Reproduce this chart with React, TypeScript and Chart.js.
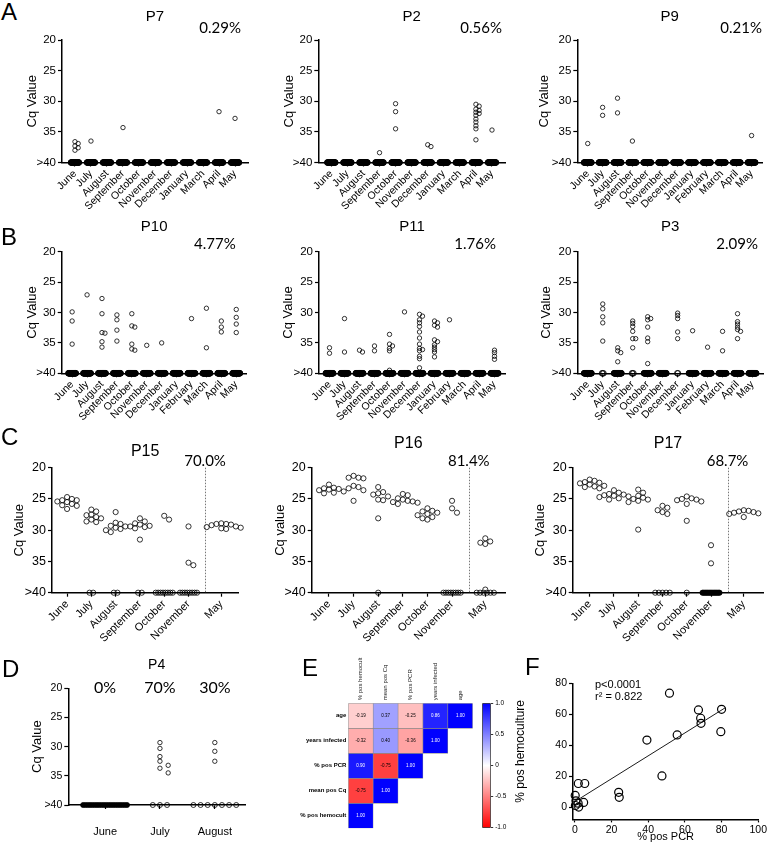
import React, { useEffect, useRef } from 'react';
import { Chart, registerables } from 'chart.js';

Chart.register(...registerables);

const FONT = '"Liberation Sans", Arial, Helvetica, sans-serif';
const PCT_FONT = 'Lato, "Liberation Sans", Arial, sans-serif';
Chart.defaults.font.family = FONT;
Chart.defaults.color = '#000';

/* ------------------------------------------------------------------ */
/* Categories                                                          */
/* ------------------------------------------------------------------ */
const months11 = ['June', 'July', 'August', 'September', 'October', 'November', 'December', 'January', 'March', 'April', 'May'];
const months12 = ['June', 'July', 'August', 'September', 'October', 'November', 'December', 'January', 'February', 'March', 'April', 'May'];
const monthsC = ['June', 'July', 'August', 'September', 'October', 'November', 'May'];
const monthsD = ['June', 'July', 'August'];

const NEG_LEVEL = 40; // ">40" (negative) level
const cqTicks = [20, 25, 30, 35, 40];

/* ------------------------------------------------------------------ */
/* Panel A                                                             */
/* ------------------------------------------------------------------ */
const p7Positive = [[36.6, 36.9, 37.3, 37.6, 38.0], [36.5], [], [34.3], [], [], [], [], [], [31.7], [32.8]];
const p7Negative = [30, 30, 30, 30, 30, 30, 30, 30, 30, 30, 30];
const p2Positive = [[], [], [], [38.4], [30.4, 31.7, 34.5], [], [37.1, 37.4], [], [], [30.5, 30.8, 31.3, 31.5, 31.8, 32.0, 32.3, 32.9, 33.4, 34.0, 34.5, 36.3], [34.7]];
const p2Negative = [30, 30, 30, 30, 30, 30, 30, 30, 30, 30, 30];
const p9Positive = [[36.9], [31.0, 32.3], [29.5, 31.9], [36.5], [], [], [], [], [], [], [], [35.6]];
const p9Negative = [30, 30, 30, 30, 30, 30, 30, 30, 30, 30, 30, 30];

/* ------------------------------------------------------------------ */
/* Panel B                                                             */
/* ------------------------------------------------------------------ */
const p10Positive = [[29.9, 31.4, 35.2], [27.1], [27.7, 30.2, 33.3, 33.4, 34.8, 35.7], [30.4, 31.2, 32.9, 34.7], [30.2, 32.2, 32.4, 35.2, 36.0, 36.2], [35.4], [35.0], [], [31.0], [29.3, 35.8], [31.4, 32.4, 33.2], [29.5, 30.8, 31.9, 33.3]];
const p10Negative = [30, 30, 30, 30, 30, 30, 30, 30, 30, 30, 30, 30];
const p11Positive = [[35.8, 36.7], [31.0, 36.5], [36.2, 36.5], [35.5, 36.3], [33.6, 35.2, 35.5, 35.9, 36.3, 39.5], [29.9], [30.3, 30.6, 31.2, 31.7, 32.3, 33.2, 34.2, 35.2, 35.9, 36.1, 36.3, 37.2, 37.6, 39.1], [31.4, 31.7, 32.1, 32.4, 34.5, 34.8, 35.3, 35.7, 36.1, 36.5, 37.3], [31.2], [], [], [36.2, 36.6, 37.2, 37.7]];
const p11Negative = [30, 30, 30, 30, 30, 30, 30, 30, 30, 30, 30, 30];
const p3Positive = [[], [28.6, 29.4, 30.7, 31.7, 34.7], [35.8, 36.3, 36.6, 38.1], [31.4, 31.8, 32.3, 33.1, 34.3, 34.3, 35.8], [30.7, 31.0, 31.2, 32.4, 34.2, 34.8, 38.4], [], [30.1, 30.5, 31.0, 33.2, 34.3], [33.0], [35.7], [33.1, 36.3], [30.2, 31.5, 31.9, 32.4, 32.8, 33.1, 34.3], []];
const p3Negative = [30, 3, 30, 3, 30, 30, 2, 30, 30, 30, 30, 30];

/* ------------------------------------------------------------------ */
/* Panel C                                                             */
/* ------------------------------------------------------------------ */
const p15Positive = [[24.7, 25.0, 25.2, 25.2, 25.4, 25.5, 25.8, 26.0, 26.1, 26.6], [26.7, 27.0, 27.5, 27.6, 27.9, 28.1, 28.3, 28.6, 28.7], [27.1, 28.8, 29.0, 29.3, 29.4, 29.6, 29.8, 30.0, 30.3], [28.1, 28.6, 28.9, 29.1, 29.3, 29.4, 29.5, 29.7, 31.5], [27.7, 28.3], [29.4, 35.2, 35.6], [28.9, 29.0, 29.0, 29.1, 29.2, 29.4, 29.5, 29.6, 29.7, 29.8]];
const p15Negative = [0, 2, 2, 2, 8, 8, 0];
const p16Positive = [[22.7, 23.2, 23.3, 23.4, 23.5, 23.6, 23.8, 24.0, 24.1], [21.3, 21.6, 21.6, 21.7, 22.9, 23.1, 23.3, 23.6, 25.3], [23.1, 23.9, 24.1, 24.3, 24.6, 25.1, 25.2, 28.1], [24.2, 24.4, 24.9, 25.1, 25.3, 25.4, 25.5, 25.6, 25.8], [26.5, 26.9, 27.0, 27.2, 27.4, 27.6, 27.9, 28.1, 28.3], [25.3, 26.5, 27.2], [31.3, 31.8, 32.0, 32.2, 39.5]];
const p16Negative = [0, 0, 1, 0, 0, 8, 6];
const p17Positive = [[21.9, 22.1, 22.3, 22.4, 22.5, 22.7, 22.9, 23.0, 23.1, 23.3], [23.6, 24.0, 24.2, 24.3, 24.4, 24.5, 24.6, 24.7, 24.9, 25.1], [23.5, 24.0, 24.5, 24.8, 25.0, 25.1, 25.3, 25.5, 29.9], [26.1, 26.4, 26.8, 27.1, 27.4], [24.6, 24.9, 25.0, 25.1, 25.2, 25.4, 25.8, 28.5], [32.4, 35.3], [26.8, 26.9, 27.0, 27.1, 27.2, 27.3, 27.4, 27.9]];
const p17Negative = [0, 0, 0, 5, 1, 14, 0];

/* ------------------------------------------------------------------ */
/* Panel D                                                             */
/* ------------------------------------------------------------------ */
const p4Positive = [[], [29.3, 30.3, 31.7, 32.5, 33.2, 33.7, 34.5], [29.3, 30.8, 32.5]];
const p4Negative = [20, 3, 7];
const p4Percent = ['0%', '70%', '30%'];

/* ------------------------------------------------------------------ */
/* Panel E : correlation matrix                                        */
/* ------------------------------------------------------------------ */
const corrCols = ['% pos hemocult', 'mean pos Cq', '% pos PCR', 'years infected', 'age'];
const corrRows = ['age', 'years infected', '% pos PCR', 'mean pos Cq', '% pos hemocult']; // top to bottom
const corrAge = [-0.19, 0.37, -0.25, 0.86, 1.0];
const corrYears = [-0.32, 0.4, -0.36, 1.0];
const corrPCR = [0.9, -0.75, 1.0];
const corrCq = [-0.75, 1.0];
const corrHemo = [1.0];
const corrMatrix = [corrAge, corrYears, corrPCR, corrCq, corrHemo];
const colorbarTicks = [-1, -0.5, 0, 0.5, 1];

/* ------------------------------------------------------------------ */
/* Panel F : regression                                                */
/* ------------------------------------------------------------------ */
const pcrPercent = [51.6, 67.4, 68.6, 68.8, 80.0, 79.6, 55.8, 39.3, 47.5, 1.9, 5.4, 23.9, 24.2, 0.3, 0.6, 1.8, 2.1, 4.8, 0.2];
const hemoPercent = [73.6, 62.8, 57.4, 54.1, 63.2, 48.7, 46.6, 43.3, 20.1, 15.2, 15.2, 9.5, 6.3, 1.0, 4.0, 2.5, 0.0, 3.0, 7.5];
const fitSlope = 0.74;
const fitIntercept = 3.5;
const fitXRange = [0, 82];
const fitLabels = ['p<0.0001', 'r\u00B2 = 0.822'];
const fTicksX = [0, 20, 40, 60, 80, 100];
const fTicksY = [0, 20, 40, 60, 80];

/* ------------------------------------------------------------------ */
/* Layout / style (positions only)                                     */
/* ------------------------------------------------------------------ */
interface RowStyle {
  chartTop: number; chartBottom: number; titleSize: number; pctY: number; pctSize: number;
  tickSize: number; xTickSize: number; xAxisH: number; rotation: number; xPad: number;
  r: number; negR: number; jitter: number; yTol: number; negGap: number; negCap: number;
  xPos?: number[]; divider?: number;
}
const rowA: RowStyle = { chartTop: 40, chartBottom: 162.5, titleSize: 15, pctY: 28, pctSize: 15, tickSize: 11.5, xTickSize: 10.5, xAxisH: 56, rotation: 45, xPad: 1, r: 2.2, negR: 2.8, jitter: 0.2, yTol: 0.35, negGap: 0.05, negCap: 0.25 };
const rowB: RowStyle = { ...rowA, chartTop: 251.7, chartBottom: 373.3, pctY: 244.3 };
const rowC: RowStyle = { chartTop: 467.7, chartBottom: 592.7, titleSize: 16, pctY: 461.5, pctSize: 15, tickSize: 12.5, xTickSize: 11, xAxisH: 52, rotation: 45, xPad: 1, r: 2.6, negR: 2.6, jitter: 0.2, yTol: 0.8, negGap: 0.15, negCap: 0.35, xPos: [0, 1, 2, 3, 4, 5, 6.35], divider: 5.68 };
const rowD: RowStyle = { chartTop: 688.3, chartBottom: 805, titleSize: 14, pctY: 688.3, pctSize: 16, tickSize: 10.5, xTickSize: 11, xAxisH: 39, rotation: 0, xPad: 16, r: 2.2, negR: 2.5, jitter: 0.15, yTol: 0.8, negGap: 0.13, negCap: 0.4 };

interface PanelLayout { row: RowStyle; axisX: number; axisRight: number; xMin: number; xMax: number; titleY: number; yTitleOffset: number; pctDx?: number; }
interface CqPanel { title: string; pct: string[]; yTitle: string; months: string[]; positives: number[][]; negatives: number[]; layout: PanelLayout; }

const cqPanels: CqPanel[] = [
  { title: 'P7', pct: ['0.29%'], yTitle: 'Cq Value', months: months11, positives: p7Positive, negatives: p7Negative,
    layout: { row: rowA, axisX: 62, axisRight: 248, xMin: -0.81, xMax: 10.81, titleY: 17, yTitleOffset: 29, pctDx: -7 } },
  { title: 'P2', pct: ['0.56%'], yTitle: 'Cq Value', months: months11, positives: p2Positive, negatives: p2Negative,
    layout: { row: rowA, axisX: 318.3, axisRight: 505, xMin: -0.81, xMax: 10.81, titleY: 17, yTitleOffset: 29, pctDx: -3 } },
  { title: 'P9', pct: ['0.21%'], yTitle: 'Cq Value', months: months12, positives: p9Positive, negatives: p9Negative,
    layout: { row: rowA, axisX: 577.3, axisRight: 762, xMin: -0.7, xMax: 11.7, titleY: 17, yTitleOffset: 33, pctDx: 0 } },
  { title: 'P10', pct: ['4.77%'], yTitle: 'Cq Value', months: months12, positives: p10Positive, negatives: p10Negative,
    layout: { row: rowB, axisX: 61.7, axisRight: 246.7, xMin: -0.7, xMax: 11.7, titleY: 226.7, yTitleOffset: 29, pctDx: -11 } },
  { title: 'P11', pct: ['1.76%'], yTitle: 'Cq Value', months: months12, positives: p11Positive, negatives: p11Negative,
    layout: { row: rowB, axisX: 319, axisRight: 505, xMin: -0.7, xMax: 11.7, titleY: 226.7, yTitleOffset: 30, pctDx: -9 } },
  { title: 'P3', pct: ['2.09%'], yTitle: 'Cq Value', months: months12, positives: p3Positive, negatives: p3Negative,
    layout: { row: rowB, axisX: 577.3, axisRight: 763, xMin: -0.7, xMax: 11.7, titleY: 226.7, yTitleOffset: 31, pctDx: -5 } },
  { title: 'P15', pct: ['70.0%'], yTitle: 'Cq Value', months: monthsC, positives: p15Positive, negatives: p15Negative,
    layout: { row: rowC, axisX: 52, axisRight: 238.3, xMin: -0.62, xMax: 7.05, titleY: 451.7, yTitleOffset: 32 } },
  { title: 'P16', pct: ['81.4%'], yTitle: 'Cq value', months: monthsC, positives: p16Positive, negatives: p16Negative,
    layout: { row: rowC, axisX: 311.7, axisRight: 505, xMin: -0.7, xMax: 7.15, titleY: 443.5, yTitleOffset: 31 } },
  { title: 'P17', pct: ['68.7%'], yTitle: 'Cq Value', months: monthsC, positives: p17Positive, negatives: p17Negative,
    layout: { row: rowC, axisX: 572.7, axisRight: 766.7, xMin: -0.7, xMax: 7.15, titleY: 443.5, yTitleOffset: 32 } },
  { title: 'P4', pct: p4Percent, yTitle: 'Cq Value', months: monthsD, positives: p4Positive, negatives: p4Negative,
    layout: { row: rowD, axisX: 68.3, axisRight: 245, xMin: -0.67, xMax: 2.55, titleY: 665, yTitleOffset: 30 } },
];

const panelLetters = ['A', 'B', 'C', 'D', 'E', 'F'];
const letterPos = [
  { left: 1, base: 20 }, { left: 1, base: 245 }, { left: 1, base: 445 },
  { left: 2, base: 677 }, { left: 302, base: 676 }, { left: 525, base: 675 },
];

/* ------------------------------------------------------------------ */
/* Helpers                                                             */
/* ------------------------------------------------------------------ */
type Pt = { x: number; y: number };

function swarm(vals: number[], cx: number, step: number, yTol: number): Pt[] {
  const placed: Pt[] = [];
  const sorted = [...vals].sort((a, b) => a - b);
  for (const v of sorted) {
    let chosen = 0;
    for (let j = 0; j < 17; j++) {
      const k = Math.ceil(j / 2) * (j % 2 === 1 ? 1 : -1);
      const off = k * step;
      const hit = placed.some((p) => Math.abs(p.y - v) < yTol && Math.abs(p.x - off) < step * 0.5);
      if (!hit) { chosen = off; break; }
    }
    placed.push({ x: chosen, y: v });
  }
  return placed.map((p) => ({ x: cx + p.x, y: p.y }));
}

const pctPlugin = {
  id: 'pctMarks',
  afterDraw(chart: any, _args: any, opts: any) {
    const { ctx, chartArea, scales } = chart;
    ctx.save();
    if (opts.divider != null) {
      const x = Math.round(scales.x.getPixelForValue(opts.divider)) + 0.5;
      ctx.strokeStyle = '#555';
      ctx.lineWidth = 0.8;
      ctx.setLineDash([1.5, 1.5]);
      ctx.beginPath();
      ctx.moveTo(x, chartArea.top);
      ctx.lineTo(x, chartArea.bottom);
      ctx.stroke();
      ctx.setLineDash([]);
    }
    for (const l of opts.labels || []) {
      ctx.font = `${l.size}px ${PCT_FONT}`;
      ctx.fillStyle = '#000';
      ctx.textBaseline = 'middle';
      if (l.x != null) {
        ctx.textAlign = 'center';
        ctx.fillText(l.text, scales.x.getPixelForValue(l.x), chartArea.top + l.dy);
      } else {
        ctx.textAlign = 'right';
        ctx.fillText(l.text, chartArea.right + l.dx, chartArea.top + l.dy);
      }
    }
    ctx.restore();
  },
};

const blackGrid = { drawOnChartArea: false, drawTicks: true, tickLength: 4, tickColor: '#000', tickWidth: 1.2, color: '#000' };
const blackBorder = { display: true, color: '#000', width: 1.5 };

function buildCq(p: CqPanel) {
  const L = p.layout;
  const R = L.row;
  const xs = R.xPos ?? p.months.map((_, i) => i);
  const posPts: Pt[] = [];
  p.positives.forEach((vals, i) => posPts.push(...swarm(vals, xs[i], R.jitter, R.yTol)));
  const negPts: Pt[] = [];
  const negFill: string[] = [];
  p.negatives.forEach((n, i) => {
    const spread = n > 1 ? Math.min(R.negCap, ((n - 1) * R.negGap) / 2) : 0;
    for (let k = 0; k < n; k++) {
      negPts.push({ x: xs[i] + (n > 1 ? -spread + (2 * spread * k) / (n - 1) : 0), y: NEG_LEVEL });
      negFill.push(n >= 10 ? '#000' : 'rgba(0,0,0,0)');
    }
  });
  const yTitleSize = 13;
  const titleLH = R.titleSize * 1.2;
  const left = Math.round(L.axisX - L.yTitleOffset - (yTitleSize * 1.2) / 2);
  const top = Math.round(L.titleY - titleLH / 2 - 2);
  const right = Math.min(768, Math.round(L.axisRight + 8));
  const bottom = Math.min(844, Math.round(R.chartBottom + R.xAxisH));
  const yW = L.axisX - left;
  const xH = bottom - R.chartBottom;
  const dy = R.pctY - R.chartTop;
  const labels = p.pct.map((text, i) => {
    if (R.divider != null) return { text, x: R.divider, dy, size: R.pctSize };
    if (p.pct.length === p.months.length) return { text, x: xs[i], dy, size: R.pctSize };
    return { text, dx: L.pctDx ?? -4, dy, size: R.pctSize };
  });
  const config: any = {
    type: 'scatter',
    data: {
      datasets: [
        { data: posPts, pointRadius: R.r, pointBorderWidth: 0.8, pointBorderColor: '#000', pointBackgroundColor: 'rgba(0,0,0,0)', clip: false },
        { data: negPts, pointRadius: R.negR, pointBorderWidth: 0.8, pointBorderColor: '#000', pointBackgroundColor: negFill, clip: false },
      ],
    },
    options: {
      responsive: false,
      animation: false,
      events: [],
      layout: { padding: { left: 0, top: 0, right: right - L.axisRight, bottom: 0 } },
      plugins: {
        legend: { display: false },
        tooltip: { enabled: false },
        title: {
          display: true, text: p.title, fullSize: false, color: '#000',
          font: { size: R.titleSize, weight: 'normal' },
          padding: { top: L.titleY - titleLH / 2 - top, bottom: R.chartTop - L.titleY - titleLH / 2 },
        },
        pctMarks: { labels, divider: R.divider },
      },
      scales: {
        x: {
          type: 'linear', min: L.xMin, max: L.xMax,
          afterBuildTicks: (s: any) => { s.ticks = xs.map((v) => ({ value: v })); },
          afterFit: (s: any) => { s.height = xH; },
          ticks: {
            autoSkip: false, minRotation: R.rotation, maxRotation: R.rotation, padding: R.xPad,
            font: { size: R.xTickSize }, color: '#000',
            callback: (_v: any, i: number) => p.months[i],
          },
          grid: blackGrid,
          border: blackBorder,
        },
        y: {
          type: 'linear', reverse: true, min: cqTicks[0], max: cqTicks[cqTicks.length - 1],
          afterBuildTicks: (s: any) => { s.ticks = cqTicks.map((v) => ({ value: v })); },
          afterFit: (s: any) => { s.width = yW; },
          ticks: {
            padding: 2, font: { size: R.tickSize }, color: '#000',
            callback: (v: any) => (v === NEG_LEVEL ? '>40' : String(v)),
          },
          title: { display: true, text: p.yTitle, color: '#000', font: { size: yTitleSize }, padding: { top: 0, bottom: 0 } },
          grid: blackGrid,
          border: blackBorder,
        },
      },
    },
    plugins: [pctPlugin],
  };
  return { box: { left, top, width: right - left, height: bottom - top }, config };
}

function corrColor(v: number) {
  if (v >= 0) {
    const c = Math.round(255 * (1 - v));
    return `rgb(${c},${c},255)`;
  }
  const c = Math.round(255 * (1 + v));
  return `rgb(255,${c},${c})`;
}

const cellTextPlugin = {
  id: 'cellText',
  afterDatasetsDraw(chart: any) {
    const ctx = chart.ctx;
    ctx.save();
    ctx.font = `4.5px ${FONT}`;
    ctx.textAlign = 'center';
    ctx.textBaseline = 'middle';
    corrMatrix.forEach((row, di) => {
      const meta = chart.getDatasetMeta(di);
      row.forEach((v, ci) => {
        const el = meta.data[ci];
        if (!el) return;
        const { x, y, base } = el.getProps(['x', 'y', 'base'], true);
        ctx.fillStyle = v > 0.6 ? '#fff' : '#000';
        ctx.fillText(v.toFixed(2), x, (y + base) / 2);
      });
    });
    ctx.restore();
  },
};

function buildHeat() {
  const box = { left: 280, top: 645, width: 200, height: 190 };
  const areaLeft = 348.3, areaRight = 472.7, areaTop = 703.3, areaBottom = 828.3;
  const datasets = corrMatrix.map((row, t) => {
    const r = corrRows.length - 1 - t;
    return {
      data: corrCols.map((_, c) => (c < row.length ? [r, r + 1] : null)),
      backgroundColor: corrCols.map((_, c) => (c < row.length ? corrColor(row[c]) : 'rgba(0,0,0,0)')),
      borderColor: '#8a8a8a', borderWidth: 0.6, borderSkipped: false,
      barPercentage: 1, categoryPercentage: 1, grouped: false,
    };
  });
  const config: any = {
    type: 'bar',
    data: { labels: corrCols, datasets },
    options: {
      responsive: false, animation: false, events: [],
      layout: { padding: { left: 0, top: 0, right: box.left + box.width - areaRight, bottom: box.top + box.height - areaBottom } },
      plugins: { legend: { display: false }, tooltip: { enabled: false } },
      scales: {
        x: {
          type: 'category', position: 'top',
          afterFit: (s: any) => { s.height = areaTop - box.top; },
          ticks: { autoSkip: false, minRotation: 90, maxRotation: 90, padding: 3, font: { size: 6, lineHeight: 0.01 }, color: '#222' },
          grid: { display: false, drawTicks: false },
          border: { display: false },
        },
        y: {
          type: 'linear', min: 0, max: corrRows.length,
          afterBuildTicks: (s: any) => { s.ticks = corrRows.map((_, i) => ({ value: i + 0.5 })); },
          afterFit: (s: any) => { s.width = areaLeft - box.left; },
          ticks: { autoSkip: false, padding: 2, font: { size: 6, weight: 'bold' }, color: '#000', callback: (_v: any, i: number) => corrRows[corrRows.length - 1 - i] },
          grid: { display: false, drawTicks: false },
          border: { display: false },
        },
      },
    },
    plugins: [cellTextPlugin],
  };
  return { box, config };
}

function buildColorbar() {
  const box = { left: 478, top: 695, width: 40, height: 140 };
  const areaLeft = 482.3, areaRight = 490.7, areaTop = 703.3, areaBottom = 827.7;
  const config: any = {
    type: 'bar',
    data: {
      labels: [''],
      datasets: [{
        data: [[colorbarTicks[0], colorbarTicks[colorbarTicks.length - 1]]],
        backgroundColor: (c: any) => {
          const area = c.chart.chartArea;
          if (!area) return '#fff';
          const g = c.chart.ctx.createLinearGradient(0, area.bottom, 0, area.top);
          g.addColorStop(0, 'rgb(255,0,0)');
          g.addColorStop(0.5, 'rgb(255,255,255)');
          g.addColorStop(1, 'rgb(0,0,255)');
          return g;
        },
        borderColor: '#000', borderWidth: 0.8, borderSkipped: false,
        barPercentage: 1, categoryPercentage: 1,
      }],
    },
    options: {
      responsive: false, animation: false, events: [],
      layout: { padding: { left: areaLeft - box.left, top: areaTop - box.top, right: 0, bottom: box.top + box.height - areaBottom } },
      plugins: { legend: { display: false }, tooltip: { enabled: false } },
      scales: {
        x: { display: false },
        y: {
          position: 'right', min: colorbarTicks[0], max: colorbarTicks[colorbarTicks.length - 1],
          afterBuildTicks: (s: any) => { s.ticks = colorbarTicks.map((v) => ({ value: v })); },
          afterFit: (s: any) => { s.width = box.left + box.width - areaRight; },
          ticks: { padding: 2, font: { size: 6.5 }, color: '#000', callback: (v: any) => (v === 0 ? '0' : Number(v).toFixed(1)) },
          grid: { drawOnChartArea: false, drawTicks: true, tickLength: 2.5, tickColor: '#000', tickWidth: 0.8 },
          border: { display: false },
        },
      },
    },
  };
  return { box, config };
}

const statPlugin = {
  id: 'statText',
  afterDraw(chart: any, _a: any, opts: any) {
    const { ctx, chartArea } = chart;
    ctx.save();
    ctx.font = `${opts.size}px ${FONT}`;
    ctx.fillStyle = '#000';
    ctx.textAlign = 'left';
    ctx.textBaseline = 'middle';
    (opts.lines || []).forEach((t: string, i: number) => {
      ctx.fillText(t, chartArea.left + opts.dx, chartArea.top + opts.dy + i * opts.gap);
    });
    ctx.restore();
  },
};

function buildRegression() {
  const box = { left: 513, top: 660, width: 255, height: 184 };
  const areaLeft = 573, areaRight = 763, areaTop = 683.3, areaBottom = 819.4;
  const pts = pcrPercent.map((x, i) => ({ x, y: hemoPercent[i] }));
  const line = fitXRange.map((x) => ({ x, y: fitIntercept + fitSlope * x }));
  const config: any = {
    type: 'scatter',
    data: {
      datasets: [
        { data: pts, pointRadius: 4, pointBorderWidth: 1.2, pointBorderColor: '#000', pointBackgroundColor: 'rgba(0,0,0,0)', clip: false },
        { data: line, showLine: true, pointRadius: 0, borderColor: '#000', borderWidth: 0.9, clip: false },
      ],
    },
    options: {
      responsive: false, animation: false, events: [],
      layout: { padding: { left: 0, top: areaTop - box.top, right: box.left + box.width - areaRight, bottom: 0 } },
      plugins: {
        legend: { display: false }, tooltip: { enabled: false },
        statText: { lines: fitLabels, size: 11, dx: 22, dy: 1.7, gap: 12 },
      },
      scales: {
        x: {
          type: 'linear', min: -1, max: 100,
          afterBuildTicks: (s: any) => { s.ticks = fTicksX.map((v) => ({ value: v })); },
          afterFit: (s: any) => { s.height = box.top + box.height - areaBottom; },
          ticks: { padding: 1, font: { size: 10.5 }, color: '#000' },
          title: { display: true, text: '% pos PCR', color: '#000', font: { size: 11 }, padding: { top: 0, bottom: 0 } },
          grid: { ...blackGrid, tickLength: 3 },
          border: blackBorder,
        },
        y: {
          type: 'linear', min: -8, max: 80,
          afterBuildTicks: (s: any) => { s.ticks = fTicksY.map((v) => ({ value: v })); },
          afterFit: (s: any) => { s.width = areaLeft - box.left; },
          ticks: { padding: 2, font: { size: 10.5 }, color: '#000' },
          title: { display: true, text: '% pos hemoculture', color: '#000', font: { size: 12 }, padding: { top: 0, bottom: 0 } },
          grid: { ...blackGrid, tickLength: 4 },
          border: blackBorder,
        },
      },
    },
    plugins: [statPlugin],
  };
  return { box, config };
}

/* ------------------------------------------------------------------ */
/* Components                                                          */
/* ------------------------------------------------------------------ */
function ChartBox({ box, config }: { box: { left: number; top: number; width: number; height: number }; config: any }) {
  const ref = useRef<HTMLCanvasElement>(null);
  useEffect(() => {
    if (!ref.current) return;
    const chart = new Chart(ref.current, config);
    return () => chart.destroy();
  }, []);
  return (
    <canvas
      ref={ref}
      width={box.width}
      height={box.height}
      style={{ position: 'absolute', left: box.left, top: box.top, width: box.width, height: box.height }}
    />
  );
}

export default function App() {
  const cq = cqPanels.map((p) => ({ key: p.title, ...buildCq(p) }));
  const heat = buildHeat();
  const cbar = buildColorbar();
  const reg = buildRegression();
  return (
    <div style={{ position: 'absolute', left: 0, top: 0, width: 768, height: 844, background: '#fff', overflow: 'hidden', fontFamily: FONT }}>
      {cq.map((c) => <ChartBox key={c.key} box={c.box} config={c.config} />)}
      <ChartBox box={heat.box} config={heat.config} />
      <ChartBox box={cbar.box} config={cbar.config} />
      <ChartBox box={reg.box} config={reg.config} />
      {panelLetters.map((l, i) => (
        <div key={l} style={{ position: 'absolute', left: letterPos[i].left, top: letterPos[i].base - 20.3, fontSize: 24, lineHeight: '24px', color: '#000' }}>{l}</div>
      ))}
    </div>
  );
}
